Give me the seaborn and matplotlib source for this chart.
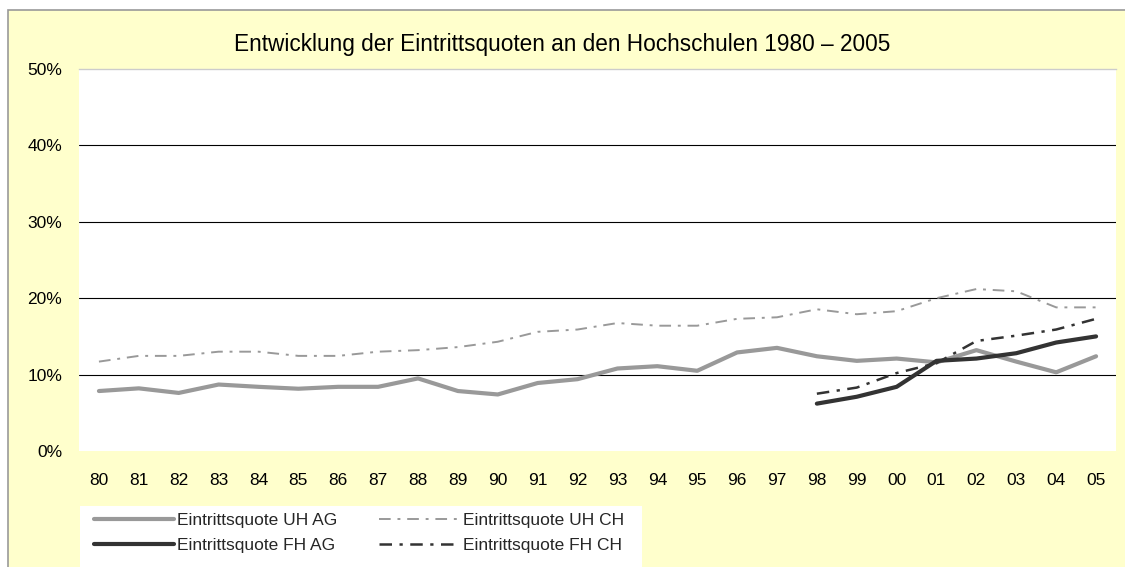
import numpy as np
import pandas as pd
import matplotlib
matplotlib.use("Agg")
import matplotlib.pyplot as plt
import seaborn as sns
from matplotlib.patches import Rectangle
from matplotlib.lines import Line2D

# ---- data (percent) ----
years = ["80", "81", "82", "83", "84", "85", "86", "87", "88", "89", "90", "91", "92",
         "93", "94", "95", "96", "97", "98", "99", "00", "01", "02", "03", "04", "05"]
uh_ag = [7.85, 8.2, 7.6, 8.7, 8.4, 8.15, 8.4, 8.4, 9.5, 7.85, 7.4, 8.9, 9.4,
         10.8, 11.1, 10.5, 12.9, 13.5, 12.4, 11.8, 12.1, 11.6, 13.2, 11.7, 10.3, 12.4]
uh_ch = [11.7, 12.45, 12.45, 13.0, 13.0, 12.45, 12.45, 13.0, 13.2, 13.6, 14.3, 15.6, 15.9,
         16.75, 16.4, 16.4, 17.3, 17.5, 18.55, 17.9, 18.3, 20.0, 21.2, 20.9, 18.8, 18.8]
fh_years = ["98", "99", "00", "01", "02", "03", "04", "05"]
fh_ag = [6.2, 7.1, 8.4, 11.8, 12.1, 12.8, 14.2, 15.0]
fh_ch = [7.5, 8.3, 10.2, 11.5, 14.4, 15.1, 15.9, 17.3]

series_names = ["Eintrittsquote UH AG", "Eintrittsquote UH CH",
                "Eintrittsquote FH AG", "Eintrittsquote FH CH"]
yticks = [0, 10, 20, 30, 40, 50]
title = "Entwicklung der Eintrittsquoten an den Hochschulen 1980 – 2005"

# ---- long-form table ----
rows = []
for name, yrs, vals in [(series_names[0], years, uh_ag), (series_names[1], years, uh_ch),
                        (series_names[2], fh_years, fh_ag), (series_names[3], fh_years, fh_ch)]:
    for y, v in zip(yrs, vals):
        rows.append({"x": years.index(y), "value": v, "series": name})
df = pd.DataFrame(rows)

# ---- styles ----
light = "#999999"
dark = "#333333"
palette = {series_names[0]: light, series_names[1]: light,
           series_names[2]: dark, series_names[3]: dark}
dashes = {series_names[0]: "", series_names[1]: (6, 3.5, 1.5, 3.5),
          series_names[2]: "", series_names[3]: (5, 3, 1.3, 3)}
sizes = {series_names[0]: 3.0, series_names[1]: 1.4,
         series_names[2]: 3.0, series_names[3]: 1.8}

sns.set_theme(style="white")
plt.rcParams["font.family"] = ["Liberation Sans", "DejaVu Sans"]

fig = plt.figure(figsize=(11.25, 5.67), dpi=100)
fig.patch.set_facecolor("white")
# yellow chart area with grey border (top/left)
fig.patches.append(Rectangle((8 / 1125, -0.2), 1.2, 0.2 + 1 - 10 / 567,
                             transform=fig.transFigure, facecolor="#FFFFCC",
                             edgecolor="#999999", linewidth=1.2, zorder=-2))
# white legend background
fig.patches.append(Rectangle((80 / 1125, -0.1), 562 / 1125, 0.1 + (567 - 506) / 567,
                             transform=fig.transFigure, facecolor="white",
                             edgecolor="none", zorder=-1))

ax = fig.add_axes([79 / 1125, 1 - 451 / 567, (1116 - 79) / 1125, (451 - 69) / 567])
ax.set_facecolor("white")

sns.lineplot(data=df, x="x", y="value", hue="series", style="series", size="series",
             hue_order=series_names, style_order=series_names, size_order=series_names,
             palette=palette, dashes=dashes, sizes=sizes, legend=False, ax=ax,
             estimator=None, sort=False)
for ln in ax.get_lines():
    ln.set_solid_capstyle("round")
    ln.set_solid_joinstyle("round")

ax.set_xlim(-0.5, len(years) - 0.5)
ax.set_ylim(0, 50)
ax.set_xticks(range(len(years)))
ax.set_xticklabels(years)
ax.set_yticks(yticks)
ax.set_yticklabels([f"{t}%" for t in yticks])
for t in [10, 20, 30, 40]:
    ax.axhline(t, color="black", lw=0.8, zorder=0.5)
for s in ["left", "right", "bottom"]:
    ax.spines[s].set_visible(False)
ax.spines["top"].set_color("#cccccc")
ax.spines["top"].set_linewidth(1.0)
ax.tick_params(axis="both", length=0, labelsize=12.5, colors="black")
ax.tick_params(axis="y", pad=12)
ax.tick_params(axis="x", pad=16)
ax.set_xlabel("")
ax.set_ylabel("")
ax.grid(False)

fig.text(0.5, 1 - 44 / 567, title, ha="center", va="center", fontsize=16.3, color="black")

handles = []
for name in [series_names[0], series_names[2], series_names[1], series_names[3]]:
    d = dashes[name]
    ls = "-" if d == "" else (0, d)
    handles.append(Line2D([0], [0], color=palette[name], lw=sizes[name], linestyle=ls))
labels = [series_names[0], series_names[2], series_names[1], series_names[3]]
fig.legend(handles, labels, ncol=2, loc="center left",
           bbox_to_anchor=(94 / 1125, 1 - 533 / 567), frameon=False,
           fontsize=12.5, handlelength=4.6, handletextpad=0.2, columnspacing=2.4,
           labelspacing=0.52, borderpad=0, borderaxespad=0)

fig.savefig("out.png", dpi=100, facecolor="white")
